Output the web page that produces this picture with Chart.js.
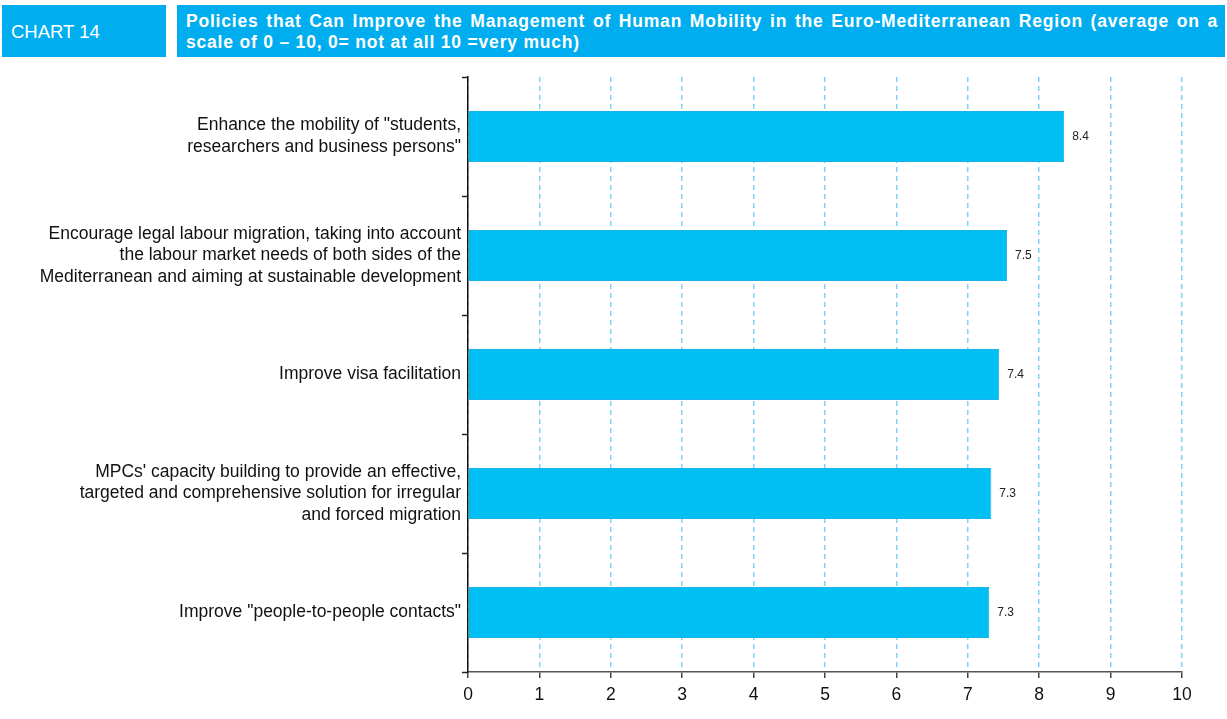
<!DOCTYPE html>
<html>
<head>
<meta charset="utf-8">
<script src="https://cdn.jsdelivr.net/npm/chart.js@4"></script>
<style>
  html, body { margin: 0; padding: 0; background: #fff; }
  body { width: 1227px; height: 719px; position: relative; overflow: hidden; font-family: "Liberation Sans", Arial, sans-serif; }
  #tag { position: absolute; left: 2px; top: 5px; width: 164px; height: 52px; background: #00AEEF; color: #fff; font-size: 18.5px; line-height: 54px; padding-left: 9px; box-sizing: border-box; }
  #title { position: absolute; left: 177px; top: 5px; width: 1048px; height: 52px; background: #00AEEF; color: #fff; font-weight: bold; font-size: 17.5px; letter-spacing: 0.8px; box-sizing: border-box; padding: 6px 7px 0 9px; line-height: 21px; }
  #title .l1 { text-align: justify; text-align-last: justify; white-space: nowrap; }
  #wrap { position: absolute; left: 0; top: 0; width: 1227px; height: 719px; }
</style>
</head>
<body>
<div id="wrap"><canvas id="c"></canvas></div>
<div id="tag">CHART 14</div>
<div id="title"><div class="l1">Policies that Can Improve the Management of Human Mobility in the Euro-Mediterranean Region (average on a</div><div>scale of 0 – 10, 0= not at all 10 =very much)</div></div>
<script>
const categories = [
  ['Enhance the mobility of "students,', 'researchers and business persons"'],
  ['Encourage legal labour migration, taking into account', 'the labour market needs of both sides of the', 'Mediterranean and aiming at sustainable development'],
  ['Improve visa facilitation'],
  ["MPCs' capacity building to provide an effective,", 'targeted and comprehensive solution for irregular', 'and forced migration'],
  ['Improve "people-to-people contacts"']
];
const values = [8.35, 7.55, 7.44, 7.33, 7.30];
const valueLabels = ['8.4', '7.5', '7.4', '7.3', '7.3'];
const xTicks = [0, 1, 2, 3, 4, 5, 6, 7, 8, 9, 10];

const valueLabelPlugin = {
  id: 'valueLabels',
  afterDatasetsDraw(chart) {
    const ctx = chart.ctx;
    const meta = chart.getDatasetMeta(0);
    ctx.save();
    ctx.font = '12px "Liberation Sans", Arial, sans-serif';
    ctx.fillStyle = '#222';
    ctx.textAlign = 'left';
    ctx.textBaseline = 'middle';
    meta.data.forEach((bar, i) => {
      ctx.fillText(valueLabels[i], bar.x + 8, bar.y);
    });
    ctx.restore();
  }
};

new Chart(document.getElementById('c'), {
  type: 'bar',
  data: {
    labels: categories,
    datasets: [{
      data: values,
      backgroundColor: '#00BFF3',
      borderColor: '#1AB0E8',
      borderWidth: 1,
      categoryPercentage: 1,
      barPercentage: 0.43
    }]
  },
  options: {
    indexAxis: 'y',
    responsive: true,
    maintainAspectRatio: false,
    animation: false,
    layout: { padding: { top: 77, right: 45, left: 0, bottom: 0 } },
    plugins: { legend: { display: false }, tooltip: { enabled: false } },
    scales: {
      x: {
        min: 0, max: 10,
        afterBuildTicks(scale) { scale.ticks = xTicks.map(v => ({ value: v })); },
        afterFit(scale) { scale.height = 47; },
        grid: {
          color: '#7FD3F4',
          lineWidth: 1.5,
          drawTicks: true,
          tickLength: 6,
          tickColor: '#444',
          tickWidth: 1.5,
          tickBorderDash: []
        },
        border: { display: true, color: '#555', width: 1.5, dash: [5, 4] },
        ticks: {
          color: '#111',
          padding: 7,
          font: { family: '"Liberation Sans", Arial, sans-serif', size: 17.5 }
        }
      },
      y: {
        afterFit(scale) { scale.width = 468; },
        grid: {
          drawOnChartArea: false,
          drawTicks: true,
          tickLength: 6,
          tickColor: '#222',
          tickWidth: 1.5,
          offset: true
        },
        border: { display: true, color: '#111', width: 1.5 },
        ticks: {
          color: '#111',
          padding: 1,
          font: { family: '"Liberation Sans", Arial, sans-serif', size: 17.5, lineHeight: 1.24 }
        }
      }
    }
  },
  plugins: [valueLabelPlugin]
});
</script>
</body>
</html>
